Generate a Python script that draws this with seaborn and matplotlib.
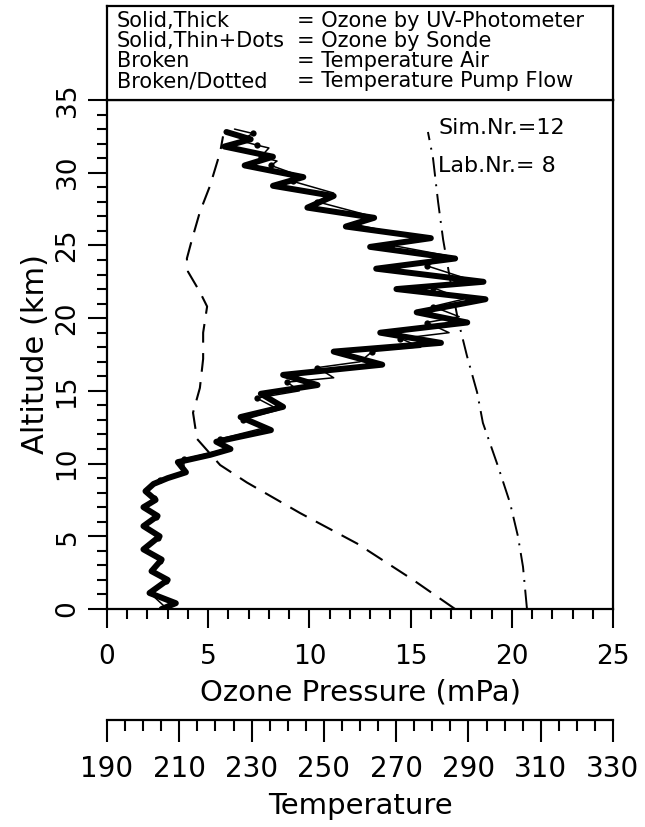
import numpy as np
import pandas as pd
import matplotlib
matplotlib.use("Agg")
import matplotlib.pyplot as plt
from matplotlib.ticker import MultipleLocator, FixedLocator
import seaborn as sns

# Ozone by UV-Photometer (mPa) and altitude (km)
uv_ozone = [2.7, 3.4, 2.1, 3.0, 2.2, 2.7, 1.8, 2.6, 1.8, 2.5, 1.8, 2.4, 1.9, 2.3, 3.0, 3.9, 3.5,
            5.1, 6.1, 5.4, 8.1, 6.6, 8.7, 7.6, 10.4, 8.7, 13.6, 11.2, 16.5, 13.5, 17.8, 15.3, 18.7,
            14.3, 18.6, 13.3, 17.2, 13.0, 16.0, 11.8, 13.2, 9.9, 11.2, 8.2, 9.7, 6.8, 8.2, 5.8, 7.1, 5.9]
uv_alt = [0.0, 0.4, 1.1, 2.0, 2.6, 3.4, 4.1, 5.0, 5.7, 6.4, 7.0, 7.5, 8.1, 8.6, 9.0, 9.4, 10.1,
          10.6, 11.0, 11.5, 12.3, 13.2, 13.9, 14.8, 15.4, 16.1, 16.8, 17.7, 18.3, 19.0, 19.7, 20.4, 21.3,
          22.0, 22.5, 23.4, 24.1, 24.9, 25.5, 26.3, 26.9, 27.6, 28.4, 29.1, 29.7, 30.5, 31.1, 31.8, 32.3, 32.8]

# Ozone by Sonde (mPa) and altitude (km)
sonde_ozone = [2.9, 2.2, 2.9, 2.3, 2.6, 1.9, 2.5, 1.9, 2.4, 1.9, 2.3, 2.0, 2.6, 3.8, 3.8, 5.9, 5.6,
               7.9, 6.7, 8.5, 7.4, 9.5, 8.9, 11.2, 10.4, 12.5, 13.1, 15.5, 14.5, 16.9, 15.8, 17.4, 16.1,
               17.6, 16.1, 17.8, 15.8, 16.8, 14.1, 15.5, 12.4, 13.1, 10.4, 11.2, 9.2, 9.5, 8.1, 8.4, 7.6,
               8.0, 7.4, 6.6, 7.2, 6.3]
sonde_alt = [0.1, 1.0, 1.9, 2.7, 3.3, 4.2, 4.9, 5.8, 6.3, 7.1, 7.6, 8.2, 8.9, 9.4, 10.3, 11.0, 11.7,
             12.5, 13.0, 13.7, 14.5, 15.0, 15.6, 15.9, 16.6, 17.0, 17.7, 18.0, 18.6, 19.0, 19.7, 20.1, 20.8,
             21.3, 22.1, 22.7, 23.6, 24.3, 25.0, 25.5, 26.4, 27.0, 28.0, 28.6, 29.4, 29.8, 30.5, 30.8, 31.1,
             31.7, 31.9, 32.2, 32.7, 33.0]

# Temperature air
air_temp = [286.3, 274.7, 259.2, 243.4, 228.7, 221.3, 214.9, 213.8, 215.7, 216.6, 216.6, 217.7,
            215.7, 212.4, 212.1, 213.5, 215.7, 218.5, 221.3, 222.1]
air_alt = [0.0, 2.0, 4.5, 6.6, 8.7, 9.9, 11.7, 13.5, 15.2, 17.2, 19.0, 20.8,
           21.8, 23.2, 24.1, 25.4, 27.3, 29.1, 31.4, 32.5]

# Temperature pump flow
pump_temp = [306.2, 305.1, 303.7, 301.5, 298.2, 294.0, 292.4, 289.6, 287.1, 284.9, 283.0, 281.6, 280.2, 278.8]
pump_alt = [0.0, 2.9, 5.0, 7.3, 9.8, 12.8, 14.9, 17.4, 19.9, 22.7, 25.4, 28.0, 31.0, 32.8]

temp_ticks = [190, 210, 230, 250, 270, 290, 310, 330]

legend_keys = ["Solid,Thick", "Solid,Thin+Dots", "Broken", "Broken/Dotted"]
legend_vals = ["= Ozone by UV-Photometer", "= Ozone by Sonde", "= Temperature Air",
               "= Temperature Pump Flow"]

sns.set_style("ticks")
plt.rcParams['font.family'] = ['DejaVu Sans']
plt.rcParams.update({"text.color": "black", "axes.labelcolor": "black",
                     "xtick.color": "black", "ytick.color": "black",
                     "axes.edgecolor": "black"})

W, H = 645, 827
fig = plt.figure(figsize=(W / 100, H / 100), dpi=100)
ax = fig.add_axes([107 / W, 1 - 609 / H, 506 / W, 509 / H])

# ozone profiles
sns.lineplot(x=uv_ozone, y=uv_alt, sort=False, estimator=None, ax=ax, color="black",
             linewidth=4.3, solid_joinstyle="round", solid_capstyle="round")
sns.lineplot(x=sonde_ozone, y=sonde_alt, sort=False, estimator=None, ax=ax, color="black",
             linewidth=1.1, marker="o", markersize=4.5, markevery=2, markeredgewidth=0)

ax.set_xlim(0, 25)
ax.set_ylim(0, 35)
ax.xaxis.set_major_locator(MultipleLocator(5))
ax.xaxis.set_minor_locator(MultipleLocator(1))
ax.yaxis.set_major_locator(MultipleLocator(5))
ax.yaxis.set_minor_locator(MultipleLocator(1))
ax.tick_params(which="major", direction="out", length=14, width=1.5, labelsize=19, color="black")
ax.tick_params(which="minor", direction="out", length=7, width=1.5, color="black")
ax.tick_params(axis="x", which="major", pad=11)
ax.tick_params(axis="y", which="major", pad=5)
for lbl in ax.get_yticklabels():
    lbl.set_rotation(90)
    lbl.set_va("center")
for sp in ax.spines.values():
    sp.set_visible(True)
    sp.set_linewidth(1.6)
    sp.set_color("black")

ax.set_xlabel("Ozone Pressure (mPa)", fontsize=21, va="center")
ax.xaxis.set_label_coords(0.5, (609 - 693) / 509)
ax.set_ylabel("Altitude (km)", fontsize=22, va="center")
ax.yaxis.set_label_coords((35 - 107) / 506, 0.5)

ax.text((438 - 107) / 506, (609 - 128) / 509, "Sim.Nr.=12", transform=ax.transAxes,
        fontsize=16, va="center", ha="left")
ax.text((438 - 107) / 506, (609 - 166) / 509, "Lab.Nr.= 8", transform=ax.transAxes,
        fontsize=16, va="center", ha="left")

# temperature on a second scale below
ax2 = ax.twiny()
sns.lineplot(x=air_temp, y=air_alt, sort=False, estimator=None, ax=ax2, color="black",
             linewidth=1.5, linestyle=(0, (9, 5)))
sns.lineplot(x=pump_temp, y=pump_alt, sort=False, estimator=None, ax=ax2, color="black",
             linewidth=1.4, linestyle=(0, (10, 4, 1, 4)))
ax2.set_xlim(190, 330)
ax2.set_ylim(0, 35)
ax2.patch.set_visible(False)
ax2.xaxis.set_ticks_position("bottom")
ax2.xaxis.set_label_position("bottom")
ax2.spines["bottom"].set_position(("outward", (720 - 609) * 0.72))
for s in ["top", "left", "right"]:
    ax2.spines[s].set_visible(False)
ax2.spines["bottom"].set_linewidth(1.6)
ax2.xaxis.set_major_locator(FixedLocator(temp_ticks))
ax2.xaxis.set_minor_locator(MultipleLocator(5))
ax2.tick_params(which="major", direction="out", length=16, width=1.5, labelsize=20, pad=9)
ax2.tick_params(which="minor", direction="out", length=8, width=1.5)
ax2.set_xlabel("Temperature", fontsize=21, va="center")
ax2.xaxis.set_label_coords(0.5, (609 - 806) / 509)

# legend box on top
lg = fig.add_axes([107 / W, 1 - 100 / H, 506 / W, 94 / H])
lg.set_xticks([])
lg.set_yticks([])
for sp in lg.spines.values():
    sp.set_linewidth(1.6)
    sp.set_color("black")
rows_y = [0.84, 0.63, 0.42, 0.20]
for k, v, yy in zip(legend_keys, legend_vals, rows_y):
    lg.text(0.02, yy, k, fontsize=15, va="center", ha="left", transform=lg.transAxes, clip_on=True)
    lg.text(0.375, yy, v, fontsize=15, va="center", ha="left", transform=lg.transAxes, clip_on=True)

fig.savefig("out.png", dpi=100)
